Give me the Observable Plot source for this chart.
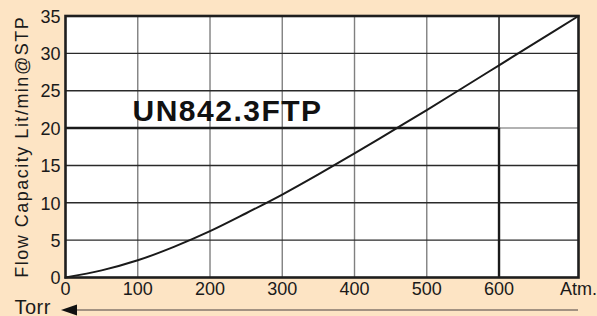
<!DOCTYPE html>
<html>
<head>
<meta charset="utf-8">
<script src="https://cdn.jsdelivr.net/npm/d3@7"></script>
<script src="https://cdn.jsdelivr.net/npm/@observablehq/plot@0.6"></script>
<style>
  html, body { margin: 0; padding: 0; background: #fde4c4; }
</style>
</head>
<body>
<div id="chart"></div>
<script>
// ---- data ----
const pressure = [0, 50, 100, 150, 200, 250, 300, 350, 400, 450, 500, 550, 600, 650, 710];
const flow     = [0, 0.95, 2.3, 4.1, 6.2, 8.6, 11.1, 13.8, 16.6, 19.5, 22.4, 25.4, 28.4, 31.4, 35];
const xTicks = [0, 100, 200, 300, 400, 500, 600];
const xMax = 710;            // "Atm." position
const yTicks = [0, 5, 10, 15, 20, 25, 30, 35];
const hGrid = [5, 10, 15, 25, 30];
const vGrid = [100, 200, 300, 400, 500];
const highlight = [{x: 600, y: 20}];
const yLabel = "Flow Capacity Lit/min@STP";
const title = "UN842.3FTP";
const atmLabel = "Atm.";
const torrLabel = "Torr";

const rows = pressure.map((p, i) => ({p, f: flow[i]}));

const plot = Plot.plot({
  width: 597,
  height: 316,
  marginLeft: 65,
  marginRight: 19,
  marginTop: 15.5,
  marginBottom: 39,
  x: {domain: [0, xMax]},
  y: {domain: [0, 35]},
  style: {background: "#fde4c4", fontFamily: "'Liberation Sans', Arial, sans-serif", fontSize: "18px", color: "#1a1a1a"},
  marks: [
    Plot.frame({fill: "white"}),
    Plot.ruleX(vGrid, {stroke: "#808080", strokeWidth: 1.4}),
    Plot.ruleY(hGrid, {stroke: "#2a2a2a", strokeWidth: 1.4}),
    Plot.ruleY(highlight, {y: "y", x1: "x", x2: xMax, stroke: "#999", strokeWidth: 1.4}),
    Plot.ruleX(highlight, {x: "x", y1: "y", y2: 35, stroke: "#2a2a2a", strokeWidth: 1.6}),
    Plot.ruleY(highlight, {y: "y", x1: 0, x2: "x", stroke: "#1a1a1a", strokeWidth: 2.4}),
    Plot.ruleX(highlight, {x: "x", y1: 0, y2: "y", stroke: "#1a1a1a", strokeWidth: 2.4}),
    Plot.line(rows, {x: "p", y: "f", curve: "catmull-rom", stroke: "#1a1a1a", strokeWidth: 2}),
    Plot.frame({stroke: "#1e1e1e", strokeWidth: 2.6}),
    Plot.axisX({ticks: [...xTicks, xMax], tickFormat: d => d === xMax ? atmLabel : d, tickSize: 0, tickPadding: 5, label: null, fontSize: 18}),
    Plot.axisY({ticks: yTicks, tickSize: 0, tickPadding: 5, label: null, fontSize: 18, dy: 1}),
    Plot.text([yLabel], {text: d => d, frameAnchor: "left", rotate: -90, textAnchor: "middle", lineAnchor: "middle", dx: -43.5, fontSize: 18}),
    Plot.text([title], {text: d => d, frameAnchor: "top-left", lineAnchor: "bottom", dx: 67, dy: 104.5, fontSize: 30, fontWeight: "bold", fill: "#111"}),
    Plot.text([torrLabel], {text: d => d, frameAnchor: "bottom-left", textAnchor: "start", lineAnchor: "bottom", dx: -51, dy: 36, fontSize: 20})
  ]
});

document.getElementById("chart").appendChild(plot);

// letter spacing for label & title
d3.select(plot).selectAll("text").each(function() {
  const t = this.textContent;
  if (t === title) this.setAttribute("letter-spacing", "1.5px");
  if (t === yLabel) this.setAttribute("letter-spacing", "1.5px");
  if (t === torrLabel) this.setAttribute("letter-spacing", "0.5px");
});

// bottom "Torr" arrow, positioned from the x scale
const xs = plot.scale("x");
const x0 = xs.apply(0), x1 = xs.apply(xMax);
const ay = 310;
const g = d3.select(plot).append("g");
g.append("line").attr("x1", x0 + 12).attr("x2", x1).attr("y1", ay).attr("y2", ay)
  .attr("stroke", "#85776c").attr("stroke-width", 1.6);
g.append("path").attr("d", `M${x0 - 4},${ay} L${x0 + 12},${ay - 5.5} L${x0 + 12},${ay + 5.5} Z`).attr("fill", "#111");
</script>
</body>
</html>
